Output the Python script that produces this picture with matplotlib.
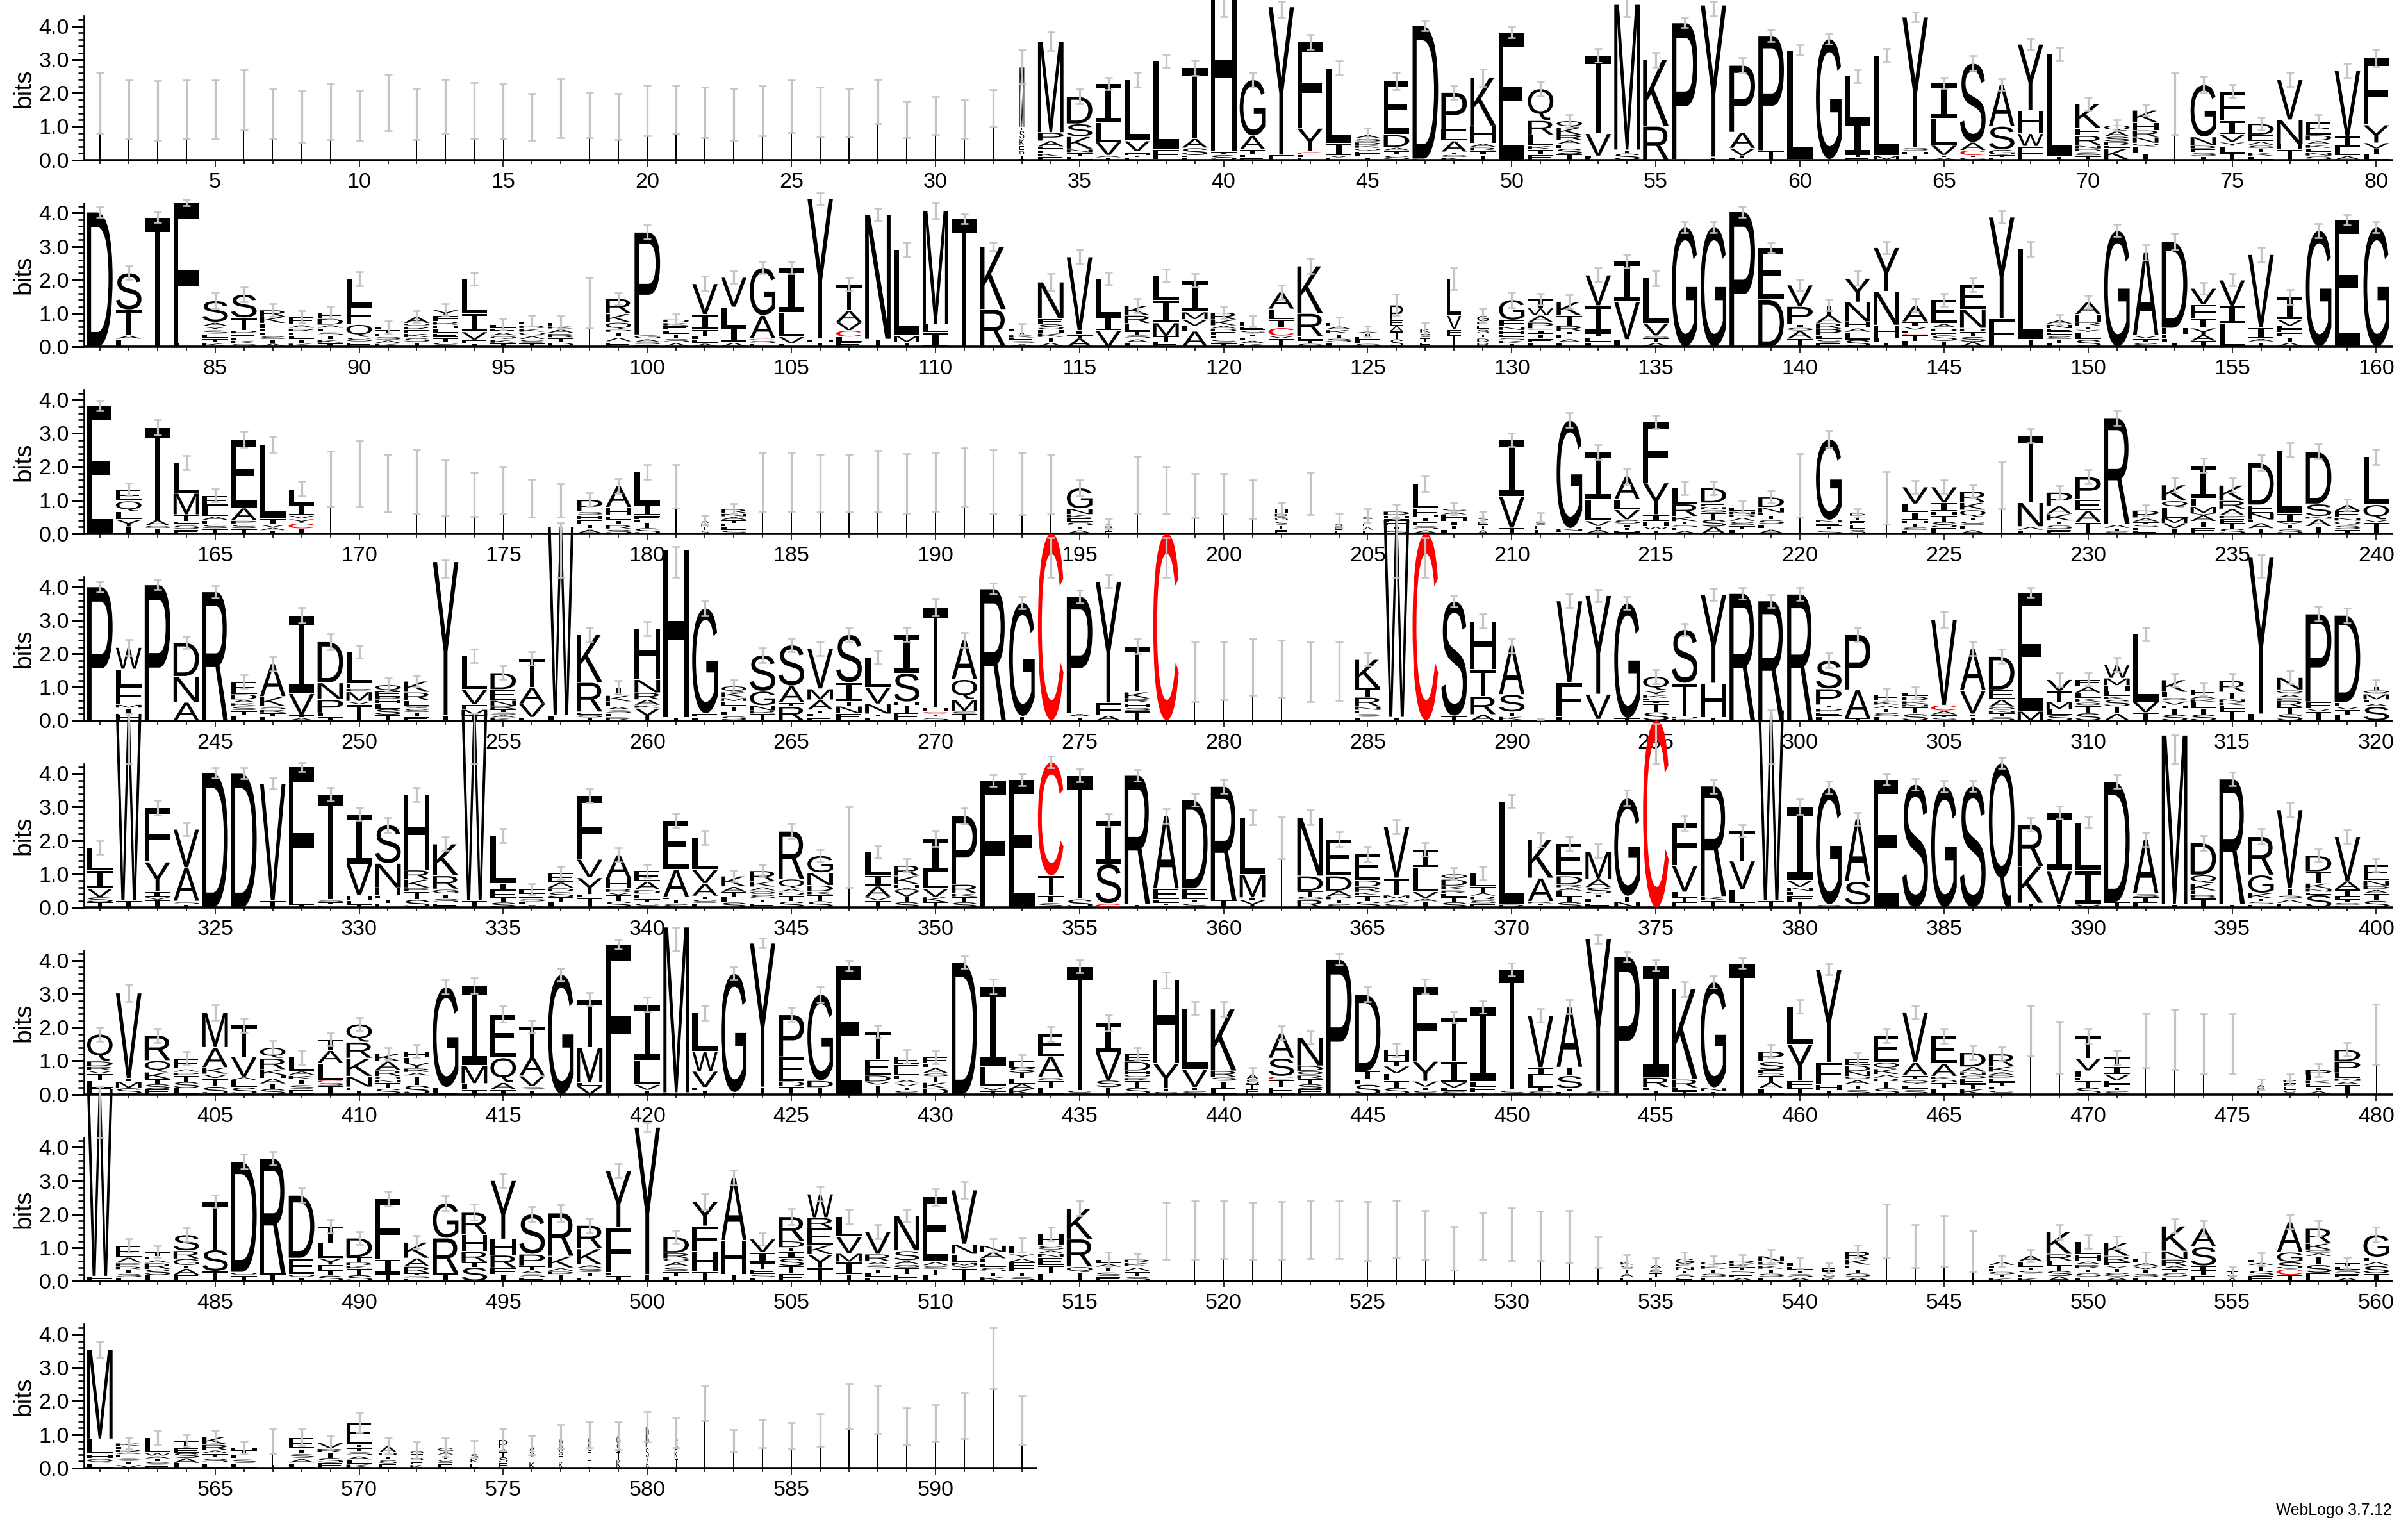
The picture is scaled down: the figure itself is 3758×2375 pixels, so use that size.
import re
import matplotlib
matplotlib.use("Agg")
import matplotlib.pyplot as plt
from matplotlib.font_manager import FontProperties
from matplotlib.patches import PathPatch
from matplotlib.textpath import TextPath
from matplotlib.transforms import Affine2D

# Each stack is read top-down: letter(s)+height in bits; a last token without a number
# shares whatever is left down to the baseline.
row1_tops = [1.70,1.50,1.47,1.51,1.50,1.80,1.38,1.30,1.44,1.33,1.72,1.37,1.59,1.48,1.46,1.29,1.55,1.35,1.29,1.48,
             1.50,1.42,1.36,1.47,1.60,1.43,1.41,1.75,1.21,1.33,1.22,1.55,2.78,3.55,1.90,2.29,2.40,2.97,2.76,5.0,
             2.40,4.58,3.53,2.75,.76,2.36,4.02,2.02,2.46,3.81,2.13,1.17,3.13,4.65,3.0,4.10,4.63,2.83,3.72,3.29,
             3.62,2.51,3.13,4.27,2.3,2.89,2.25,3.46,3.18,1.68,1.04,1.49,1.68,2.25,2.06,1.09,2.40,1.15,2.67,3.05]
row1_errs = [.91,.88,.89,.87,.88,.90,.74,.76,.84,.76,.85,.77,.81,.84,.82,.70,.88,.68,.69,.75,
             .73,.75,.77,.74,.78,.74,.72,.66,.55,.57,.58,.56,.5,.28,.22,.18,.22,.19,.23,.6,
             .22,.18,.22,.21,.19,.26,.15,.2,.26,.16,.22,.19,.2,.3,.22,.15,.14,.22,.18,.16,
             .15,.19,.19,.14,.16,.22,.17,.18,.19,.19,.17,.17,.92,.25,.2,.19,.21,.2,.21,.25]
row1_stacks = ["I"]*32 + [
    "M1.8 T.1 S.25 K.2 EDI","M2.73 P.25 A.17 FLKE","D.82 S.38 K.37 NTE","I1.18 L.57 V.4 AT","L1.83 V.32 H.11 TE",
    "L2.65 F.3 E","T2.12 A.28 S.22 LE","H4.75 T.1 S","G1.68 A.41 T.15 LE","Y4.43 F",
    "F2.58 Y.7 C.1 LE","L2.26 I.35 VE","A.12 S.1 D.1 KQELT","E1.6 D.38 A.1 TS","D3.99 E",
    "P1.1 E.35 A.33 TSK","K1.44 H.52 A.12 R.1 IT","E3.8 Q","Q.95 R.43 L.32 K.12 TE","Q.2 K.22 R.15 A.14 E.12 ST",
    "T2.34 V.67 LE","M4.35 T.1 S","K1.99 R","P4.08 A","Y4.54 T",
    "P2.0 A.48 V.22 TL","P3.44 T","L3.27 I","G3.6 A","L1.37 I.97 TE",
    "L3.0 M","Y3.9 S.1 H.12 T","I1.06 L.8 V.3 TA","S2.36 A.24 C.15 TG","A1.24 S.7 G.16 TE",
    "Y1.97 H.7 W.38 F","L3.07 T","K.73 E.22 R.29 N.11 D.08 ST","Q.17 A.17 S.15 R.12 E.08 K","K.38 H.22 R.21 N.17 Q.12 LT",
    "I","G1.56 N.25 DEST","F.89 I.41 V.22 Y.13 LT","D.34 E.19 A.12 S.1 TKL","V1.2 N.73 H.15 T","E.41 D.16 AKLNS",
    "V1.96 I.33 L.25 A","F2.0 Y.54 VTL"]

row2_tops = [4.03,2.21,3.87,4.31,1.38,1.57,1.1,.89,1.03,2.04,.59,.9,1.1,2.04,.68,.78,.73,1.32,1.44,3.43,
             .83,1.89,2.08,2.37,2.37,4.44,1.87,3.96,2.91,4.08,3.83,3.0,.53,1.94,2.69,2.05,1.24,2.13,1.99,1.03,
             .76,1.64,2.42,.73,.46,1.25,.55,2.04,.93,1.41,1.43,1.36,2.15,2.56,2.06,3.58,3.58,4.04,2.96,1.85,
             1.25,2.05,2.97,1.24,1.41,1.85,3.88,2.93,.81,1.35,3.48,2.82,3.15,1.75,2.0,2.76,1.49,3.48,3.8,3.58]
row2_errs = [.15,.2,.15,.1,.23,.22,.19,.18,.18,.21,.18,.18,.18,.19,.17,.17,.19,.76,.18,.21,
             .16,.22,.18,.19,.18,.1,.2,.19,.22,.24,.15,.13,.16,.25,.2,.18,.21,.19,.2,.18,
             .17,.21,.23,.15,.15,.32,.19,.33,.22,.23,.17,.2,.21,.2,.23,.17,.17,.16,.14,.17,
             .17,.21,.18,.2,.19,.2,.18,.22,.15,.18,.18,.23,.25,.17,.18,.22,.22,.21,.15,.17]
row2_stacks = [
    "D","S1.1 T.76 A.12 L","T","F4.2 L","S.64 A.13 Y.1 SETK",
    "S.7 T.38 P.1 ELKS","R.2 K.19 F.16 LESTA","E.23 A.1 RELTK","E.19 D.18 A.1 LSTKI","L.82 F.55 Q.38 SE",
    "L.08 TESAK","A.19 Q.1 R.1 E.1 KST","Y.16 F.18 R.11 H.1 LETS","L1.05 I.54 V.24 ET","L.13 E.11 AQKT",
    "E.13 R.1 KQAST","E.11 K.08 ARTD","I","R.45 K.26 Q.21 P.08 TAE","P3.07 G.12 A.1 SE",
    "D.11 K.09 ELTSA","V.92 I.45 T.2 LEA","V.89 L.6 I.45 A","G1.43 A.69 C.06 SE","I1.34 L.73 V.2 F",
    "Y4.2 H.12 T","T.78 A.35 V.25 C.19 LE","N3.73 T","L2.58 M.19 T","M3.4 L.25 I","T","K1.88 R",
    "L.08 TKESA","N1.1 E.16 S.16 H.1 KTA","V2.2 I.13 T.1 A","L1.15 I.41 V","K.3 R.24 E.22 TSAL","L.74 I.67 M.41 TE",
    "I.95 M.22 V.19 L.16 A","R.22 K.17 A.1 D.08 ELST",
    "F.15 E.12 S.1 TLAK","A.51 L.32 I.24 C.24 V.08 T","K1.42 R.69 ETS","E.11 A.1 KTSL","A.05 TELS","P.45 E.17 A.16 TS","KSTE",
    "L1.1 V.43 F.15 T","G.17 K.1 ESTDR","G.61 F.19 N.12 H.11 ESKT",
    "T.27 W.22 A.21 P.18 C.05 ITEL","K.43 T.3 R.16 I.1 EAL","V.92 I.81 T.13 EL","I1.21 V1.13 L","L1.35 V.38 S.06 TA",
    "G","G","P","E1.54 D","V.64 P.53 I.1 S.1 AT",
    "T.29 A.25 R.17 P.2 LSE","Y.71 N.59 H.18 A.14 LS","Y1.31 N1.01 H.38 LT","A.49 I.14 V.11 F.11 C.03 TL","E.71 A.14 D.11 F.1 ST",
    "E.72 N.57 D.11 TSA","Y3.04 F","L2.71 T","A.13 N.14 E.1 FSTL","A.38 H.22 R.13 T.1 Y.08 LS",
    "G","A2.48 V.09 TS","D2.59 H.18 ELT","V.49 F.41 I.29 Y.2 AT","V.78 I.52 L",
    "V2.18 I.33 A.1 T","I.68 V.18 L.1 E.1 FTA","G","E","G"]

row3_tops = [3.83,1.32,3.18,2.13,1.15,2.82,2.67,1.34,1.63,1.8,1.51,1.55,1.37,1.17,1.3,1.06,1.0,1.02,1.43,1.85,
             1.42,.41,.75,1.55,1.55,1.51,1.51,1.56,1.5,1.55,1.68,1.55,1.5,1.49,1.37,.31,1.46,1.3,1.14,1.2,
             1.03,.76,1.2,.4,.53,.68,1.51,.75,.5,2.81,.5,3.39,2.44,1.72,3.34,1.37,1.37,.8,1.1,1.45,
             2.83,.62,1.07,1.4,1.4,1.27,1.45,2.93,1.24,1.7,3.45,.7,1.46,2.04,1.45,2.12,2.5,2.46,.86,2.3]
row3_errs = [.16,.2,.23,.21,.19,.24,.23,.22,.83,.97,.87,.95,.83,.66,.7,.57,.5,.2,.22,.22,
             .65,.14,.14,.88,.88,.87,.87,.92,.89,.88,.88,.95,.93,.89,.24,.15,.85,.7,.66,.6,
             .57,.18,.63,.22,.21,.19,.24,.17,.17,.2,.13,.22,.22,.24,.21,.2,.2,.17,.19,.95,
             .25,.13,.78,.19,.2,.19,.7,.21,.2,.21,.22,.16,.22,.21,.21,.23,.21,.22,.18,.23]
row3_stacks = [
    "E","E.34 Q.32 L.24 YT","T2.77 A.17 S.08 T","L.92 M.64 T.2 F.11 SE","E.32 L.3 A.13 F.11 ST",
    "E2.05 A.37 P.11 ST","L2.23 I.17 V.08 AT","L.45 I.34 V.1 Y.14 CT"] + ["I"]*9 + [
    "P.36 S.1 HETA","A.64 H.25 ETRS","L.96 I.34 F.13 L.08 TS","I","AKTS","R.14 N.1 ATELS"] + ["I"]*11 + [
    "G.62 N.17 K.11 ESTA","ASTE","I","I","I","I",
    "I","H.15 D.1 GSTE","I","TSEL","STEAL","D.13 H.1 FETS","L.76 F.19 H.08 TESA","S.1 A.08 E.1 H.1 ITL","SETA",
    "I1.7 V.94 T","TSEL","G3.23 N.08 ET","I1.42 L.64 V.15 T.09 A","A.7 L.3 V.3 S.13 I.1 TH","F1.82 Y.95 I.2 H.15 W.1 T",
    "L.48 R.37 K.15 TSEA","D.45 E.11 N.1 G.08 TSA","E.13 N.1 D.08 ASTL","D.31 N.16 E.07 TSLA","I",
    "G2.42 N.08 ETS","D.09 TELS","I","V.51 L.25 I.24 H.1 TSE","V.48 I.25 H.13 TSE",
    "R.34 K.22 Q.21 TSEA","I","T2.0 N.72 AL","P.41 A.24 K.2 TSE","P.68 E.32 A.36 T",
    "R3.17 A.12 TS","P.22 A.13 T.08 SLE","K.48 Q.19 L.32 M.15 VT","I.98 L.25 M.19 V.06 ATE","K.46 R.25 A.19 P.1 ETS",
    "D1.26 E.24 N.2 F.1 AT","L1.9 I.25 V.06 TS","D1.57 S.37 N.08 AT","A.18 E.2 N.1 QST","L1.43 Q.45 V.08 T"]

row4_tops = [4.0,2.19,4.06,2.34,3.85,1.17,1.7,3.15,2.36,2.06,1.07,1.18,4.75,1.93,1.43,1.85,5.8,2.57,1.0,2.75,
             5.1,3.36,1.03,1.96,2.26,2.15,2.57,1.9,2.57,3.39,2.41,3.94,3.53,5.6,3.71,4.16,2.22,5.6,1.45,1.49,
             1.6,1.55,1.45,1.48,1.83,6.0,5.6,3.57,2.98,2.25,.05,3.58,3.74,3.52,1.32,2.72,3.77,3.8,3.58,3.78,
             1.8,2.57,.78,.83,3.02,2.15,1.92,3.83,1.23,1.23,1.68,2.58,1.22,.94,1.2,4.9,1.29,3.19,3.15,1.03]
row4_errs = [.16,.24,.15,.18,.18,.2,.21,.23,.24,.2,.2,.17,.25,.2,.2,.2,.3,.22,.19,.21,
             .6,.22,.18,.22,.2,.2,.21,.2,.21,.25,.22,.16,.18,.6,.19,.19,.22,.6,.89,.87,
             .85,.86,.89,.87,.19,.3,.6,.17,.21,.22,.02,.2,.18,.19,.21,.19,.18,.17,.19,.19,
             .22,.21,.19,.18,.24,.21,.21,.15,.2,.19,.21,.2,.19,.19,.2,.3,.19,.22,.22,.19]
row4_stacks = [
    "P","W.65 L.5 F.55 M.12 TE","P","D1.02 N.77 A","R",
    "E.38 D.16 A.1 K.09 STL","A.98 K.29 S.1 R.1 TL","I2.34 V.64 TA","D1.23 N.5 P.4 LT","L.95 E.15 P.1 M.28 V.1 T",
    "Q.19 E.16 P.1 H.1 LST","K.33 R.25 L.16 Q.08 STE","Y4.6 T","L1.0 V.45 F.15 MT","D.5 E.33 N.16 R.1 TSAK",
    "T.85 A.5 V.4 E","W5.65 L","K1.43 R.88 EST","T.25 K.18 E.15 A.1 S.1 LR","H1.52 N.4 R.2 A.16 K.1 Y",
    "H5.0 T","G3.15 EL","Q.18 K.16 M.12 ETLS","S1.08 G.43 N.15 R.1 T","S1.22 A.5 T.12 R",
    "V1.2 M.33 A.3 TLE","S1.43 I.57 T.14 NE","L.9 V.5 N.3 TE","I1.15 S.86 H.1 TE","T3.0 H.12 C.07 TS",
    "A1.18 Q.6 M.35 S.08 T","R","G3.4 T","C","P3.5 A.1 T",
    "Y3.63 F.38 A","T1.37 K.19 R.13 H.14 S.11 T","C"] + ["I"]*6 + [
    "K.86 T.27 R.29 N.1 ESL","W5.9 T","C","S3.43 T","H1.45 T.8 R.55 A",
    "A1.47 S.52 TK","T","V2.45 F1.0 L","Y2.95 V.75 F","G3.45 T",
    "Q.42 Y.13 K.1 L.08 I.08 TS","S1.6 T1.0 HK","Y2.65 H1.02 T","R","R",
    "R","S.85 P.48 T.1 P.12 EL","P1.65 A.85 T","E.19 K.13 A.1 TSL","L.1 D.14 K.1 N.08 TS",
    "V2.56 C.16 A.13 TS","A1.25 V.7 I.1 T","D1.0 E.29 A.22 O.1 N.08 TS","E3.55 M","V.35 T.32 M.22 LS",
    "E.22 A.18 L.16 K.12 O.1 TS","W.41 M.22 H.16 L.16 K.1 STA","L2.02 V.32 I","K.37 L.16 Q.1 V.13 H.1 TS","E.19 A.1 K.1 LTS",
    "R.35 T.2 N.1 K.1 F.15 T","Y4.7 L","N.37 Q.13 A.11 B.08 RTS","P2.63 F.2 V.1 T","D2.6 E.13 V.1 TL",
    "T.11 Q.13 M.16 L.11 A.1 S"]

row5_tops = [1.8,5.8,2.98,2.34,4.03,4.01,3.71,4.2,3.39,2.8,2.47,3.37,1.9,5.8,2.15,.55,1.04,3.34,1.57,1.1,
             2.6,2.09,.94,1.1,2.28,1.55,1.8,1.66,1.26,2.06,2.74,3.8,3.82,4.35,3.95,2.6,3.95,2.74,3.22,3.62,
             2.69,2.08,2.69,2.04,1.61,2.42,1.74,1.0,1.02,3.18,2.03,1.91,1.68,3.27,5.6,2.52,3.63,2.29,5.9,3.01,
             3.59,2.65,3.82,3.68,3.62,3.63,4.32,2.48,2.84,2.55,3.76,2.03,5.15,1.93,3.84,2.12,2.92,1.55,2.12,1.27]
row5_errs = [.2,.3,.22,.19,.15,.16,.16,.13,.2,.19,.22,.21,.2,.3,.21,.17,.19,.2,.21,.19,
             .22,.21,.17,.18,.23,.18,1.2,.19,.19,.24,.24,.17,.17,.18,.19,.19,.17,.22,.19,.21,
             .22,.63,.22,.22,.22,.21,.2,.18,.2,.19,.22,.22,.21,.23,.6,.22,.21,.18,.3,.23,
             .19,.19,.16,.17,.17,.16,.17,.2,.19,.17,.2,.21,.4,.22,.2,.23,.22,.19,.2,.19]
row5_stacks = [
    "L.7 I.54 V.25 ST","W5.6 T","F1.62 Y.89 I.15 V.1 T","V1.15 A1.0 S.1 T","D",
    "D","V3.5 T","F4.09 T","T3.15 STE","I1.5 V.94 H.15 FT",
    "S1.15 N.73 H.22 FTE","H2.25 R.28 K.25 P.12 TS","K.95 R.4 G.14 TSE","W5.6 T","L1.43 I.22 F.19 TS",
    "F.12 TESLA","E.29 A.16 D.13 STL","F1.9 V.55 Y.5 L.1 T","A.72 H.29 R.11 V.08 TS","E.32 A.25 D.13 FTS",
    "E1.46 A.83 L.08 TS","L.96 V.41 A.38 T.1 SE","K.32 A.16 TLS","R.32 K.16 A.13 O.1 STE","R1.43 Q.29 A.1 D.1 TS",
    "G.51 N.38 D.18 K.1 TS","I","L.7 I.32 A.32 V.12 T","R.32 K.25 H.1 A.1 VTS","I1.0 L.5 V.25 KT",
    "P2.05 R.27 K.1 TS","F","E","C3.4 T.6 I.2 S","T3.7 S",
    "I1.3 S1.18 C","R3.85 T","A2.18 E.33 L.1 TS","D2.66 E.32 T.1 S","R3.4 T",
    "L1.7 M.7 I.07 Y","I","N1.75 D.45 T.16 S.1 R","E1.1 D.45 A.16 P.1 TS","E.8 D.19 R.16 K.1 TS",
    "V1.54 T.5 M.13 AS","I.54 L.73 V.2 A.1 T","Q.16 D.19 K.13 R.1 E.1 TS","L.4 T.18 A.1 RSE","L3.08 R",
    "K1.15 A.7 RTS","E.97 D.25 R.1 A.1 LTS","M.83 A.25 S.19 T.13 LE","G2.93 TN","C",
    "F1.26 V.8 LTE","R3.3 K.12 T","T.9 V.85 L.42 T","W5.7 T","I2.2 V.2 N.13 L.13 FT",
    "G3.5 S","A1.87 S.7 T","E","S","G",
    "S","Q","R1.25 K1.1 T","I1.74 V1.0 T","L1.45 I1.0 V",
    "D3.6 T","A1.62 S.1 TE","M5.05 T","D.96 Q.25 K.22 E.12 R.1 T","R3.75 T",
    "R1.15 G.54 K.16 TSE","V2.35 T.2 SAE","D.48 T.35 K.16 N.1 E.08 S","V1.33 A.25 I.22 L.1 TSE","E.46 N.16 D.11 A.13 TS"]

row6_tops = [1.8,3.03,1.76,1.08,2.44,2.07,1.4,1.11,1.64,2.1,1.21,1.29,3.21,3.25,2.39,2.02,3.58,2.85,4.49,2.68,
             5.0,2.44,3.61,4.52,2.38,2.99,3.84,1.88,1.13,1.11,3.95,3.22,.99,1.81,3.82,2.13,1.21,3.42,2.58,2.55,
             .6,1.83,1.7,4.03,2.99,1.32,3.23,2.31,2.61,3.73,2.36,2.61,4.65,4.11,3.85,3.15,3.36,3.92,1.29,2.63,
             3.74,1.06,1.76,2.46,1.75,1.25,1.21,1.9,1.4,1.75,1.11,1.6,1.65,1.5,1.5,.3,.45,.73,1.34,1.8]
row6_errs = [.21,.26,.21,.19,.23,.21,.2,.21,.19,.19,.19,.19,.21,.23,.24,.19,.19,.19,.14,.22,
             .4,.22,.19,.14,.21,.23,.15,.19,.2,.19,.18,.22,.19,.22,.19,.24,.19,.24,.2,.22,
             .19,.21,.2,.17,.22,.2,.22,.18,.19,.19,.21,.21,.13,.16,.16,.22,.18,.16,.19,.2,
             .17,.18,.21,.2,.22,.2,.21,.75,.78,.22,.21,.8,.9,.9,.9,.16,.15,.19,.2,.9]
row6_stacks = [
    "Q.81 D.15 R.13 V.1 TLE","V2.55 T.1 MS","R.75 Q.35 K.2 TSE","E.32 A.1 P.1 TSL","M1.04 A.6 K.19 V.14 TS",
    "T.95 V.6 A.1 LS","Q.32 R.34 K.16 H.1 ATS","L.41 A.13 K.13 TSE","T.33 A.38 L.5 C.08 S.1 T","Q.54 R.48 K.54 N.32 ET",
    "K.22 A.27 R.18 O.1 N.1 TS","H.2 L.15 Y.15 R.14 A.1 TS","G3.0 L","I2.39 M.54 L.18 T","E1.3 Q.74 A.2 T",
    "T.9 A.57 V.32 S.1 T","G","T1.45 M1.05 L.1 V","F","I1.66 L.73 V.16 T",
    "M4.95 L","L1.15 W.6 V.48 F.1 T","G3.55 T","Y4.3 T","P1.26 E.73 D.15 T",
    "G2.58 D.2 T","E","T.83 E.48 D.19 V.1 T","E.24 E.32 L.13 A.1 VTS","E.19 L.13 A.16 S.1 TKD",
    "D","I2.39 L.6 V.13 T","E.19 STLAK","E.67 A.64 Q.1 TL","T3.7 S",
    "I.86 V.85 ST","E.22 D.29 H.1 Q.1 R.1 TS","H2.5 Y.75 TS","L1.83 V.54 TS","K1.85 R.18 S.13 TE",
    "ASTE","A.75 S.54 C.11 TE","N.85 D.15 O.12 R.12 TSE","P","D2.3 T.24 L.15 S",
    "H.33 I.15 V.22 L.22 TS","F2.24 Y.6 V.16 TS","T1.32 I.63 V.16 LS","I2.23 L.16 F.15 T","T3.6 S",
    "V1.56 I.22 L.38 TS","A1.8 I.25 S.38 TE","Y4.55 S","P","I3.34 R.3 LT",
    "K2.7 R.25 LT","G3.16 N.12 T","T","P.31 S.25 E.1 Q.08 TAL","L1.13 Y1.1 F.2 T",
    "Y2.78 F.67 H.16 T","E.2 D.17 N.15 Q.1 ATS","E.81 Q.19 K.16 A.12 R.1 TS","V1.5 A.4 T.12 QLS","E.83 A.38 K.1 O.1 TL",
    "D.43 A.15 N.1 S.1 ETK","R.38 K.16 A.1 D.08 ETLS","I","I","T.67 V.38 L.19 F.1 TS",
    "T.29 I.22 V.19 L.1 FTS","I","I","I","I",
    "ASL","P.1 ELS","P.16 L.15 K.1 ETA","D.35 P.35 E.15 N.1 A.1 T","I"]

row7_tops = [5.75,1.07,.88,1.39,2.39,3.57,3.67,2.57,1.64,1.29,2.47,1.17,2.34,2.06,3.01,2.01,2.04,1.67,3.3,4.6,
             1.32,2.38,3.1,1.26,1.93,2.61,1.93,1.48,1.96,2.52,2.73,1.07,1.07,1.42,2.18,.66,.66,1.51,1.53,1.54,
             1.51,1.52,1.54,1.54,1.5,1.55,1.38,.98,1.35,1.4,1.36,1.34,.86,.6,.5,.68,.6,.62,.75,.55,
             .4,.89,1.5,1.05,1.2,.9,.6,.76,1.48,1.18,1.16,.68,1.65,1.58,.3,.66,1.77,1.58,.55,1.39]
row7_errs = [.3,.2,.17,.2,.18,.22,.2,.21,.2,.2,.22,.19,.22,.24,.21,.22,.25,.22,.22,.13,
             .19,.23,.22,.19,.24,.21,.22,.21,.2,.25,.25,.2,.21,.2,.22,.21,.17,.86,.87,.86,
             .86,.87,.86,.86,.88,.86,.73,.65,.7,.78,.74,.78,.46,.2,.19,.19,.16,.17,.19,.17,
             .14,.19,.8,.65,.75,.6,.17,.18,.22,.2,.19,.19,.21,.22,.12,.19,.22,.23,.17,.22]
row7_stacks = [
    "W5.6 F","E.36 A.16 P.1 R.1 TSL","T.14 E.1 A.1 RSL","S.48 R.24 G.19 T.1 AE","T1.45 S.64 T",
    "D3.3 Q.1 T","R3.43 T","D1.88 E.48 Q.1 T","T.5 L.45 Y.2 F.15 TS","D.57 T.15 R.1 K.1 TS",
    "F1.82 I.41 T","K.48 A.25 R.2 TSE","G1.05 R1.05 T","R.67 H.5 R.32 T.15 S","Y1.75 H.48 R.38 F.2 T",
    "S1.2 P.35 T.13 ASE","R1.29 K.35 A.1 D.1 T","R.7 K.48 A.1 STE","Y1.69 F1.34 L.1 T","Y4.4 T",
    "D.48 R.16 Q.1 ASTL","Y.73 F.76 H.6 T","A1.88 H1.02 T","V.4 I.3 T.2 E.15 SL","R.73 D.19 T.13 I.2 STE",
    "W.71 R.32 E.5 K.28 YT","L.6 V.5 M.25 I.38 T","V.67 R.22 A.1 STLE","N1.05 S.29 A.12 G.1 TE","E1.93 A.13 S.1 TL",
    "V1.62 N.3 L.25 M.1 Y.08 T","N.2 A.19 E.13 LSTK","L.25 Y.13 A.13 F.16 ETS","H.35 S.14 A.1 N.13 ETL","K.92 R.83 Q.16 T",
    "L.13 A.11 TSE","R.1 K.13 ATS"] + ["I"]*16 + [
    "KSTAE","ASTE","G.16 K.08 NTSE","GKTSE","R.1 K.08 TSEA","N.16 D.11 KTSE","L.1 ETSA",
    "ETSK","R.24 K.16 ETSA","I","I","I","I",
    "A.13 L.08 ESTK","A.17 L.16 TSEK","K.67 R.2 L.15 TSA","L.39 H.19 A.1 RTSE","K.41 R.18 F.1 V.08 TSA",
    "L.13 A.1 V.1 TSE","K.75 N.25 R.19 A.08 TSE","A.55 S.57 I.13 TE","TSA","L.1 A.09 TSE",
    "A.9 G.3 S.2 CT","R.45 K.19 G.1 A.1 TSE","T.1 LSEA","G.67 L.13 A.13 ST"]

row8_tops = [3.55,.75,.91,.82,.94,.62,.8,.91,.75,1.36,.66,.53,.62,.58,.85,.69,.94,1.0,.97,1.23,
             1.07,1.94,.82,1.03,.96,1.13,1.84,1.75,1.24,1.35,1.56,3.29,1.42]
row8_errs = [.24,.17,.21,.18,.19,.18,.37,.25,.2,.29,.25,.25,.27,.25,.34,.29,.36,.38,.41,.45,
             .45,.53,.33,.42,.39,.49,.68,.71,.55,.55,.69,.91,.74]
row8_stacks = [
    "M2.68 L.45 H.13 QE","K.1 L.1 R.08 A.06 ESTV","L.45 W.1 A.08 TSE","T.22 ESAL","K.24 R.16 A.1 TSE",
    "H.07 TESL","I","E.33 TSAL","V.16 R.13 TSE","E.65 T.1 TSALK",
    "A.19 D.1 TSE","G.1 TSEK","G.13 A.1 TSE","TSKE","P.26 A.1 TSE","ASTK","AGSTK","ASTE","GSTK",
    "DPSA","ASKT","I","I","I","I","I","I","I","I","I","I","I","I"]

first_positions = [1, 81, 161, 241, 321, 401, 481, 561]
all_tops = [row1_tops, row2_tops, row3_tops, row4_tops, row5_tops, row6_tops, row7_tops, row8_tops]
all_errs = [row1_errs, row2_errs, row3_errs, row4_errs, row5_errs, row6_errs, row7_errs, row8_errs]
all_stacks = [row1_stacks, row2_stacks, row3_stacks, row4_stacks, row5_stacks, row6_stacks, row7_stacks, row8_stacks]

# Occupancy-scaled stack widths (fraction of a full column)
thin_positions = (list(range(1, 33)) + [73, 98] + list(range(169, 178)) + [181] + list(range(184, 195))
                  + [197, 198, 199, 200, 201, 203, 220, 223, 227] + list(range(279, 285)) + [347, 362, 468, 469,
                  472, 473, 474, 475, 480] + list(range(518, 534)) + [543, 544, 545, 546] + list(range(582, 594)))
partial_widths = {33: .18, 126: .5, 127: .4, 128: .55, 129: .45, 182: .3, 196: .3, 202: .5, 204: .3, 205: .4, 209: .4,
                  211: .4, 222: .6, 441: .5, 476: .3, 477: .5, 534: .5, 535: .5, 536: .7, 541: .5, 555: .4, 567: .1,
                  571: .7, 572: .5, 573: .6, 574: .3, 575: .35, 576: .2, 577: .15, 578: .15, 579: .15, 580: .12, 581: .12}
# Error bars of the very tall letters run from a fixed lower bound to near the letter's top
tall_err_bounds = {40: (4.29, 5.0), 42: (4.27, 4.75), 54: (4.29, 5.0), 57: (4.3, 4.75), 106: (4.25, 4.6),
                   257: (4.28, 5.9), 261: (4.28, 5.2), 274: (4.29, 5.46), 278: (4.29, 5.46), 286: (4.29, 6.04),
                   287: (4.29, 5.46), 322: (4.29, 5.8), 334: (4.29, 5.8), 375: (4.29, 5.5), 379: (4.29, 5.9),
                   393: (4.29, 5.15), 421: (4.29, 5.0), 481: (4.29, 5.8), 253: (4.28, 4.8), 316: (4.28, 4.95)}

BLACK, RED, GRAY = "#000000", "#ff0000", "#c4c4c4"
FIG_W, FIG_H = 3758, 2375
CELL = 44.97
LEFT = 155.8 - 0.55 * CELL
BASE0, ROW_STEP = 249.7, 291.6
AX_H = 224.5
PX = 72 / 100

plt.rcParams["font.family"] = ["Liberation Sans", "DejaVu Sans"]
fig = plt.figure(figsize=(FIG_W / 100, FIG_H / 100), dpi=100, facecolor="white")

sans = FontProperties(family="Liberation Sans")
mono = FontProperties(family="Liberation Mono")
glyph_cache = {}


def unit_glyph(ch, plain=False):
    key = (ch, plain)
    if key not in glyph_cache:
        prop = mono if (ch == "I" and not plain) else sans
        path = TextPath((0, 0), ch, size=1, prop=prop)
        box = path.get_extents()
        glyph_cache[key] = path.transformed(
            Affine2D().translate(-box.x0, -box.y0).scale(1 / box.width, 1 / box.height))
    return glyph_cache[key]


def parse_stack(text, top):
    items, used = [], 0.0
    for tok in text.split():
        m = re.fullmatch(r"([A-Z]+)([\d.]*)", tok)
        letters, h = m.group(1), m.group(2)
        if h:
            for c in letters:
                items.append((c, float(h)))
                used += float(h)
        else:
            rest = top - used
            if rest > 0.005:
                for c in letters:
                    items.append((c, rest / len(letters)))
    return items


for r, first in enumerate(first_positions):
    tops, errs, stacks = all_tops[r], all_errs[r], all_stacks[r]
    if not (len(tops) == len(errs) == len(stacks)):
        raise ValueError(f"row {r+1}: {len(tops)} {len(errs)} {len(stacks)}")
    n = len(tops)
    end_pad = 0.55 if n == 80 else 0.5
    base_px = BASE0 + r * ROW_STEP
    ax_w = (n - 1 + 0.55 + end_pad) * CELL
    ax = fig.add_axes([LEFT / FIG_W, 1 - base_px / FIG_H, ax_w / FIG_W, AX_H / FIG_H])
    ax.patch.set_visible(False)
    ax.set_xlim(first - 0.55, first + n - 1 + end_pad)
    ax.set_ylim(0, 4.3)
    positions = list(range(first, first + n))

    for pos, top, stack in zip(positions, tops, stacks):
        thin = pos in thin_positions
        frac = 0.04 if thin else partial_widths.get(pos, 1.0)
        width = 0.885 * frac
        y = top
        for ch, h in parse_stack(stack, top):
            y -= h
            gap = h * 0.3 if h < 0.15 and not thin else min(0.025, h * 0.08)
            patch = PathPatch(unit_glyph(ch, plain=thin), facecolor=RED if ch == "C" else BLACK, edgecolor="none", lw=0,
                              clip_on=False, zorder=3,
                              transform=Affine2D().scale(width, h - gap).translate(pos - width / 2, y + gap / 2)
                              + ax.transData)
            ax.add_patch(patch)

    lows = [tall_err_bounds[p][0] if p in tall_err_bounds else t - e for p, t, e in zip(positions, tops, errs)]
    highs = [tall_err_bounds[p][1] if p in tall_err_bounds else t + e for p, t, e in zip(positions, tops, errs)]
    mids = [(a + b) / 2 for a, b in zip(lows, highs)]
    halves = [(b - a) / 2 for a, b in zip(lows, highs)]
    eb = ax.errorbar(positions, mids, yerr=halves, fmt="none", ecolor=GRAY, elinewidth=3.2 * PX,
                     capsize=5.6 * PX, capthick=2.6 * PX, zorder=4)
    for art in list(eb[1]) + list(eb[2]):
        art.set_clip_on(False)

    for side in ("top", "right"):
        ax.spines[side].set_visible(False)
    ax.spines["left"].set_linewidth(2.6 * PX)
    ax.spines["bottom"].set_linewidth(3.6 * PX)

    ax.set_xticks([p for p in positions if p % 5 == 0])
    ax.set_xticks(positions, minor=True)
    ax.tick_params(axis="x", which="major", length=10 * PX, width=1.6 * PX, pad=9 * PX, labelsize=24.5)
    ax.tick_params(axis="x", which="minor", length=5.6 * PX, width=1.6 * PX)
    ax.set_yticks([0, 1, 2, 3, 4])
    ax.set_yticklabels(["0.0", "1.0", "2.0", "3.0", "4.0"])
    ax.set_yticks([v / 5 for v in range(0, 22) if v % 5], minor=True)
    ax.tick_params(axis="y", which="major", length=19 * PX, width=3 * PX, pad=4 * PX, labelsize=24.5)
    ax.tick_params(axis="y", which="minor", length=9 * PX, width=2.6 * PX)
    ax.set_ylabel("bits", fontsize=28)
    ax.yaxis.set_label_coords((55 - LEFT) / ax_w, 0.5)

fig.text(3733 / FIG_W, 1 - 2364 / FIG_H, "WebLogo 3.7.12", ha="right", va="baseline", fontsize=17.8)
fig.savefig("out.png", dpi=100)
